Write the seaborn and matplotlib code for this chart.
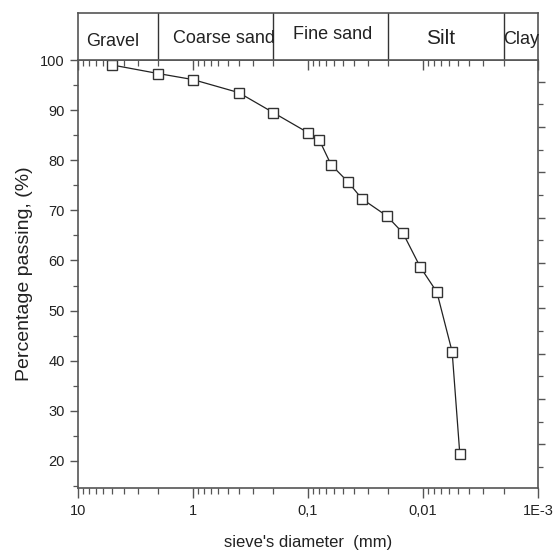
import numpy as np
import pandas as pd
import seaborn as sns
import matplotlib
matplotlib.use('agg')
import matplotlib.pyplot as plt
from matplotlib.ticker import FixedLocator, LogLocator, MultipleLocator, NullFormatter

# sieve data
diameter_mm = [5, 2, 1, 0.4, 0.2, 0.1, 0.08, 0.063, 0.045, 0.034, 0.0207, 0.015, 0.0106, 0.0076, 0.0056, 0.0048]
passing_pct = [99.0, 97.3, 96.1, 93.5, 89.5, 85.5, 84.1, 79.1, 75.7, 72.3, 68.9, 65.5, 58.7, 53.7, 41.8, 21.3]

# soil classes on top band
class_bounds = [2, 0.2, 0.02, 0.002]
class_names = ["Gravel", "Coarse sand", "Fine sand", "Silt", "Clay"]
class_xpos = [5.0, 0.54, 0.061, 0.0071, 0.00142]
class_ypos = [0.39, 0.46, 0.55, 0.45, 0.43]
class_size = [13, 13, 13, 15, 13]

xtick_vals = [10, 1, 0.1, 0.01, 0.001]
xtick_labels = ["10", "1", "0,1", "0,01", "1E-3"]

sns.set_style("ticks")
plt.rcParams['font.family'] = ['Liberation Sans', 'DejaVu Sans']

df = pd.DataFrame({"d": diameter_mm, "p": passing_pct})

fig = plt.figure(figsize=(5.53, 5.52), dpi=100)
ax = fig.add_axes([0.1405, 0.1168, 0.8329, 0.7745])

sns.lineplot(data=df, x="d", y="p", sort=False, ax=ax, color="#222222", linewidth=0.9,
             marker="s", markersize=7.5, markerfacecolor="white",
             markeredgecolor="#333333", markeredgewidth=1.0)

ax.set_xscale("log")
ax.set_xlim(10, 0.001)
ax.set_ylim(14.7, 100)

spine_col = "#555555"
for s in ax.spines.values():
    s.set_color(spine_col)
    s.set_linewidth(1.2)

ax.xaxis.set_major_locator(FixedLocator(xtick_vals))
ax.set_xticklabels(xtick_labels)
ax.xaxis.set_minor_locator(LogLocator(base=10, subs=np.arange(2, 10)))
ax.xaxis.set_minor_formatter(NullFormatter())
ax.yaxis.set_major_locator(MultipleLocator(10))
ax.yaxis.set_minor_locator(MultipleLocator(5))

ax.tick_params(axis="x", which="major", direction="out", length=7, width=1, colors=spine_col,
               labelcolor="#222222", labelsize=10.5, top=True, pad=5)
ax.tick_params(axis="x", which="minor", direction="out", length=4, width=0.9, colors=spine_col, top=True)
ax.tick_params(axis="y", which="major", direction="out", length=6, width=1, colors=spine_col,
               labelcolor="#222222", labelsize=10.5, right=False)
ax.tick_params(axis="y", which="minor", direction="out", length=3.5, width=0.9, colors=spine_col, right=False)
# top ticks point inward
for t in ax.xaxis.get_major_ticks() + ax.xaxis.get_minor_ticks():
    t.tick2line.set_marker(3)
ax.xaxis.set_tick_params(which="both", top=True)

ax.set_xlabel("sieve's diameter  (mm)", fontsize=12, color="#222222", labelpad=12)
ax.set_ylabel("Percentage passing, (%)", fontsize=14, color="#222222", labelpad=5)

# right axis with its own unlabelled ticks
axr = ax.twinx()
axr.set_ylim(-0.956, 8.481)
axr.yaxis.set_major_locator(MultipleLocator(1))
axr.yaxis.set_minor_locator(MultipleLocator(0.5))
axr.tick_params(axis="y", which="major", direction="out", length=5, width=1, colors=spine_col, labelright=False)
axr.tick_params(axis="y", which="minor", direction="out", length=3.5, width=0.9, colors=spine_col)
for s in axr.spines.values():
    s.set_visible(False)

# class band above the plot
band = fig.add_axes([0.1405, 0.8913, 0.8329, 0.0846])
band.set_xscale("log")
band.set_xlim(10, 0.001)
band.set_ylim(0, 1)
band.set_xticks([])
band.set_yticks([])
band.minorticks_off()
for s in band.spines.values():
    s.set_color(spine_col)
    s.set_linewidth(1.2)
for b in class_bounds:
    band.axvline(b, color="#333333", linewidth=1.0)
for name, xp, yp, fs in zip(class_names, class_xpos, class_ypos, class_size):
    band.text(xp, yp, name, ha="center", va="center", fontsize=fs, color="#222222")

plt.savefig("out.png", dpi=100)
plt.close()
